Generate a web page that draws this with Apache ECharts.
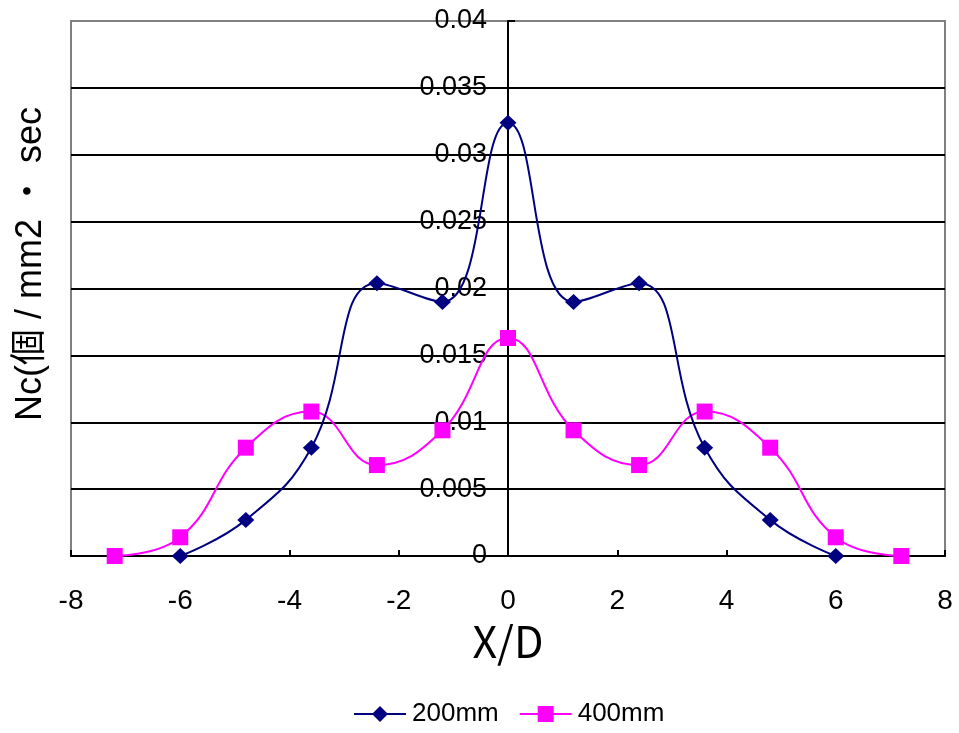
<!DOCTYPE html>
<html>
<head>
<meta charset="utf-8">
<script src="https://cdn.jsdelivr.net/npm/echarts@6/dist/echarts.min.js"></script>
<style>
  html, body { margin: 0; padding: 0; background: #fff; }
  #chart { width: 959px; height: 733px; }
</style>
</head>
<body>
<div id="chart"></div>
<script>
// Positions across the jet (X/D) and impact counts per series
var xPos200 = [-6, -4.8, -3.6, -2.4, -1.2, 0, 1.2, 2.4, 3.6, 4.8, 6];
var nc200 = [0, 0.0027, 0.0081, 0.0204, 0.019, 0.0324, 0.019, 0.0204, 0.0081, 0.0027, 0];
var xPos400 = [-7.2, -6, -4.8, -3.6, -2.4, -1.2, 0, 1.2, 2.4, 3.6, 4.8, 6, 7.2];
var nc400 = [0, 0.0014, 0.0081, 0.0108, 0.0068, 0.0094, 0.0163, 0.0094, 0.0068, 0.0108, 0.0081, 0.0014, 0];
var seriesNames = ['200mm', '400mm'];
var xTitle = 'X/D';
var yTitle = 'Nc(個 / mm2 ・ sec';

var FONT = '"Liberation Sans", Arial, sans-serif';
var GRID_LEFT = 71, GRID_RIGHT = 14;
var PLOT_W = 959 - GRID_LEFT - GRID_RIGHT;

function pairs(xs, ys) {
  return xs.map(function (x, i) { return [x, ys[i]]; });
}

var chart = echarts.init(document.getElementById('chart'), null, { renderer: 'canvas' });

// Horizontal grid lines are black, the top one sits on the grey plot border
var gridColors = ['#000', '#000', '#000', '#000', '#000', '#000', '#000', '#000', '#808080'];

chart.setOption({
  animation: false,
  backgroundColor: '#fff',
  grid: {
    left: GRID_LEFT, right: GRID_RIGHT, top: 21, bottom: 177,
    outerBoundsMode: 'none',
    containLabel: false,
    show: true, borderColor: '#808080', borderWidth: 2, backgroundColor: 'transparent'
  },
  legend: {
    top: 696,
    left: 348,
    itemWidth: 52,
    itemHeight: 20,
    itemGap: 20,
    textStyle: { fontFamily: FONT, fontSize: 26, color: '#000', padding: [0, 0, 0, 1] },
    data: seriesNames
  },
  xAxis: {
    type: 'value',
    min: -8, max: 8, interval: 2,
    name: xTitle,
    nameLocation: 'middle',
    nameGap: 62,
    nameTextStyle: { fontFamily: '"Noto Sans CJK JP", sans-serif', fontSize: 43, color: '#000' },
    axisLine: { onZero: true, lineStyle: { color: '#000', width: 2 } },
    axisTick: { show: true, inside: true, length: 6, lineStyle: { color: '#000', width: 2 } },
    axisLabel: { fontFamily: FONT, fontSize: 28, color: '#000', margin: 31 },
    splitLine: { show: false }
  },
  yAxis: {
    type: 'value',
    min: 0, max: 0.04, interval: 0.005,
    // axis sits at X/D = 0, the middle of the symmetric x range
    offset: -PLOT_W / 2,
    axisLine: { onZero: false, lineStyle: { color: '#000', width: 2 } },
    axisTick: { show: true, inside: true, length: 7, lineStyle: { color: '#000', width: 2 } },
    axisLabel: { fontFamily: FONT, fontSize: 27, color: '#000', margin: 21 },
    splitLine: { show: true, lineStyle: { color: gridColors, width: 2 } }
  },
  // y-axis title at the far left edge, outside the plot
  graphic: [{
    type: 'text',
    rotation: Math.PI / 2,
    x: 31, y: 264,
    style: {
      text: yTitle,
      font: '36px "Liberation Sans", "Noto Sans CJK JP", sans-serif',
      fill: '#000',
      align: 'center',
      verticalAlign: 'middle'
    }
  }],
  series: [
    {
      name: seriesNames[0],
      type: 'line',
      data: pairs(xPos200, nc200),
      smooth: 0.45,
      symbol: 'diamond',
      symbolSize: [17, 16],
      itemStyle: { color: '#000080' },
      lineStyle: { color: '#000080', width: 2 },
      z: 3
    },
    {
      name: seriesNames[1],
      type: 'line',
      data: pairs(xPos400, nc400),
      smooth: 0.45,
      symbol: 'rect',
      symbolSize: 16,
      itemStyle: { color: '#ff00ff' },
      lineStyle: { color: '#ff00ff', width: 2 },
      z: 2
    }
  ]
});
</script>
</body>
</html>
